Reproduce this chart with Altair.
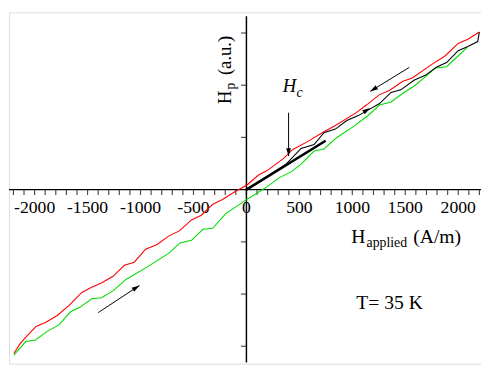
import math
import altair as alt
import pandas as pd

# ---------------- data ----------------
# descending branch (red)
red_x = [-2196, -2140, -2085, -1986, -1893, -1786, -1677, -1554, -1461, -1369, -1260, -1214,
         -1152, -1059, -952, -843, -735, -633, -519, -426, -318, -225, -102, 6, 114, 192,
         346, 438, 577, 732, 840, 1041, 1133, 1257, 1350, 1473, 1566, 1751, 1875, 1999, 2091, 2199]
red_y = [-3.14, -2.96, -2.83, -2.62, -2.54, -2.41, -2.22, -1.97, -1.87, -1.79, -1.66, -1.57,
         -1.45, -1.39, -1.14, -1.05, -0.89, -0.79, -0.58, -0.49, -0.28, -0.19, -0.03, 0.09, 0.28, 0.36,
         0.59, 0.77, 0.92, 1.11, 1.23, 1.48, 1.62, 1.82, 1.90, 2.07, 2.14, 2.40, 2.56, 2.80, 2.88, 3.02]

# ascending branch (green)
green_x = [-2196, -2085, -1992, -1878, -1770, -1661, -1569, -1461, -1369, -1260, -1137, -936,
           -735, -627, -519, -410, -318, -195, -9, 83, 176, 315, 423, 516, 639, 732, 855,
           1026, 1149, 1257, 1365, 1473, 1582, 1689, 1782, 1890, 1999, 2085]
green_y = [-3.17, -2.91, -2.88, -2.71, -2.59, -2.34, -2.25, -2.09, -2.07, -1.94, -1.72, -1.48,
           -1.22, -1.02, -0.97, -0.76, -0.74, -0.46, -0.205, -0.09, 0.03, 0.235, 0.34, 0.49, 0.74, 0.78, 1.00,
           1.23, 1.42, 1.62, 1.68, 1.84, 1.98, 2.16, 2.33, 2.355, 2.56, 2.725]

# virgin curve (thin black)
black_x = [0, 377, 516, 639, 732, 840, 948, 1056, 1165, 1257, 1365, 1458, 1582, 1689, 1797,
           1890, 1999, 2091, 2184, 2199]
black_y = [0, 0.494, 0.789, 0.863, 1.091, 1.159, 1.325, 1.418, 1.542, 1.649, 1.861, 1.911, 2.096,
           2.189, 2.348, 2.434, 2.662, 2.743, 2.836, 3.017]

# thick initial slope line
thick_x = [0, 748]
thick_y = [0, 0.937]

x_label_values = [-2000, -1500, -1000, -500, 0, 500, 1000, 1500, 2000]
x_minor_ticks = list(range(-2200, 2201, 100))
y_tick_values = [-3, -2, -1, 1, 2, 3]

# arrows: tail (x1, y1) -> tip (x2, y2)
arrow_x1 = [398, 1538, -1399]
arrow_y1 = [1.473, 2.342, -2.355]
arrow_x2 = [398, 1168, -1010]
arrow_y2 = [0.641, 1.880, -1.835]
# arrowhead on the virgin curve (tip, and a point behind it for direction)
curve_head = (1168, 1.564)
curve_head_from = (1056, 1.418)

# ---------------- layout ----------------
X_DOMAIN = [-2242, 2215]
Y_DOMAIN = [-3.333, 3.396]
W, H = 481, 358
KX = W / (X_DOMAIN[1] - X_DOMAIN[0])
KY = H / (Y_DOMAIN[1] - Y_DOMAIN[0])
FONT = "Liberation Serif"

xs = alt.Scale(domain=X_DOMAIN, nice=False, zero=False)
ys = alt.Scale(domain=Y_DOMAIN, nice=False, zero=False)


def X(f="x"):
    return alt.X(f"{f}:Q", scale=xs, axis=None)


def Y(f="y"):
    return alt.Y(f"{f}:Q", scale=ys, axis=None)


rows = []
for name, xv, yv in [("red", red_x, red_y), ("green", green_x, green_y), ("black", black_x, black_y)]:
    for i, (a, b) in enumerate(zip(xv, yv)):
        rows.append({"series": name, "i": i, "x": a, "y": b})
curves_df = pd.DataFrame(rows)

curves = alt.Chart(curves_df).mark_line(strokeWidth=1.1).encode(
    x=X(), y=Y(),
    color=alt.Color("series:N", scale=alt.Scale(domain=["red", "green", "black"],
                                                range=["#ff0000", "#00dd00", "#000000"]), legend=None),
    order="i:Q",
)

thick = alt.Chart(pd.DataFrame({"x": thick_x, "y": thick_y})).mark_line(
    strokeWidth=2.6, color="black").encode(x=X(), y=Y())

xaxis = alt.Chart(pd.DataFrame({"y": [0]})).mark_rule(color="black", strokeWidth=1.5).encode(y=Y())
yaxis = alt.Chart(pd.DataFrame({"x": [0], "y": [3.32], "y2": [-3.31]})).mark_rule(
    color="black", strokeWidth=1.5).encode(x=X(), y=Y(), y2="y2:Q")

xticks = alt.Chart(pd.DataFrame({"x": x_minor_ticks, "y": [0] * len(x_minor_ticks)})).mark_tick(
    orient="vertical", size=5.5, thickness=1.2, yOffset=2.75, color="black").encode(x=X(), y=Y())
yticks = alt.Chart(pd.DataFrame({"x": [0] * len(y_tick_values), "y": y_tick_values})).mark_tick(
    orient="horizontal", size=5.5, thickness=1.2, xOffset=-2.75, color="black").encode(x=X(), y=Y())

xlabels = alt.Chart(pd.DataFrame({"x": x_label_values, "y": [0] * len(x_label_values),
                                  "t": [str(v) for v in x_label_values]})).mark_text(
    font=FONT, fontSize=18, dy=19, baseline="middle", align="center", color="black").encode(
    x=X(), y=Y(), text="t:N")

arrows_df = pd.DataFrame({"x": arrow_x1, "y": arrow_y1, "x2": arrow_x2, "y2": arrow_y2})
shafts = alt.Chart(arrows_df).mark_rule(color="black", strokeWidth=1).encode(
    x=X(), y=Y(), x2="x2:Q", y2="y2:Q")


def head_angle(x1, y1, x2, y2):
    dx = (x2 - x1) * KX
    dy = -(y2 - y1) * KY
    return math.degrees(math.atan2(dx, -dy)) % 360


heads_x = list(arrow_x2) + [curve_head[0]]
heads_y = list(arrow_y2) + [curve_head[1]]
heads_a = [head_angle(a, b, c, d) for a, b, c, d in zip(arrow_x1, arrow_y1, arrow_x2, arrow_y2)]
heads_a.append(head_angle(curve_head_from[0], curve_head_from[1], curve_head[0], curve_head[1]))
heads = alt.Chart(pd.DataFrame({"x": heads_x, "y": heads_y, "a": heads_a})).mark_point(
    shape="M0,0L0.6,2L-0.6,2Z", filled=True, size=64, color="black", opacity=1, strokeWidth=0).encode(
    x=X(), y=Y(), angle=alt.Angle("a:Q", scale=None))


def label(text, x, y, size, angle=0, italic=False):
    kw = dict(font=FONT, fontSize=size, align="left", baseline="alphabetic", color="black", text=text)
    if angle:
        kw["angle"] = angle
    if italic:
        kw["fontStyle"] = "italic"
    return alt.Chart(pd.DataFrame({"x": [x], "y": [y]})).mark_text(**kw).encode(x=X(), y=Y())


texts = [
    label("H", 991, -1.017, 20),
    label("applied", 1135, -1.09, 14),
    label("(A/m)", 1575, -1.017, 20),
    label("H", -148, 1.64, 19, angle=270),
    label("p", -111, 1.917, 14, angle=270),
    label("(a.u.)", -148, 2.194, 19, angle=270),
    label("H", 343, 1.861, 19, italic=True),
    label("c", 472, 1.774, 14, italic=True),
    label("T= 35 K", 1038, -2.281, 20),
]

chart = alt.layer(xaxis, yaxis, xticks, yticks, xlabels, curves, thick, shafts, heads, *texts).properties(
    width=W, height=H,
    autosize=alt.AutoSizeParams(type="none"),
    padding={"left": 1, "top": 1, "right": 0, "bottom": 0},
).configure_view(stroke="#707070", strokeWidth=2).configure(background="white")

chart.save("out.html", embed_options={"renderer": "svg", "actions": False})
